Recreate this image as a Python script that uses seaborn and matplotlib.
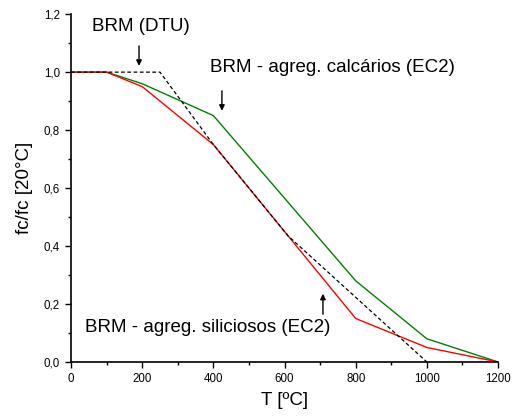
import matplotlib
matplotlib.use("Agg")
import matplotlib.pyplot as plt
import seaborn as sns
import pandas as pd
from matplotlib.ticker import MultipleLocator, FuncFormatter

# Data
t_silic = [0, 100, 200, 400, 800, 1000, 1200]
fc_silic = [1.0, 1.0, 0.95, 0.75, 0.15, 0.05, 0.0]
t_calc = [0, 100, 200, 400, 800, 1000, 1200]
fc_calc = [1.0, 1.0, 0.96, 0.85, 0.28, 0.08, 0.0]
t_dtu = [0, 250, 400, 610, 1000]
fc_dtu = [1.0, 1.0, 0.75, 0.435, 0.0]

sns.set_style("ticks", {"axes.edgecolor": "black", "text.color": "black",
                        "xtick.color": "black", "ytick.color": "black",
                        "axes.labelcolor": "black"})
plt.rcParams['font.family'] = ['Liberation Sans', 'DejaVu Sans']

fig = plt.figure(figsize=(5.15, 4.17), dpi=100)
ax = fig.add_axes([0.138, 0.132, 0.829, 0.834])

df_s = pd.DataFrame({"T": t_silic, "fc": fc_silic})
df_c = pd.DataFrame({"T": t_calc, "fc": fc_calc})
df_d = pd.DataFrame({"T": t_dtu, "fc": fc_dtu})

sns.lineplot(data=df_c, x="T", y="fc", ax=ax, color="#008000", lw=1.0)
sns.lineplot(data=df_s, x="T", y="fc", ax=ax, color="#ff0000", lw=1.0)
sns.lineplot(data=df_d, x="T", y="fc", ax=ax, color="black", lw=0.9, linestyle=(0, (3, 2)))

ax.set_xlim(0, 1200)
ax.set_ylim(0, 1.2)
ax.xaxis.set_major_locator(MultipleLocator(200))
ax.xaxis.set_minor_locator(MultipleLocator(100))
ax.yaxis.set_major_locator(MultipleLocator(0.2))
ax.yaxis.set_minor_locator(MultipleLocator(0.1))
ax.yaxis.set_major_formatter(FuncFormatter(lambda v, p: f"{v:.1f}".replace(".", ",")))
ax.tick_params(which="major", length=4, width=1, labelsize=8.3, direction="out", pad=4,
               colors="black")
ax.tick_params(which="minor", length=2.5, width=1, direction="out", colors="black")
for s in ["left", "bottom"]:
    ax.spines[s].set_linewidth(1.2)
    ax.spines[s].set_color("black")
sns.despine(ax=ax)

ax.set_xlabel("T [ºC]", fontsize=13.5, labelpad=5, color="black")
ax.set_ylabel("fc/fc [20°C]", fontsize=13.5, labelpad=8, color="black")

arrow = dict(arrowstyle="-|>", color="black", lw=1, mutation_scale=8)
ax.text(58, 1.158, "BRM (DTU)", fontsize=13.5, va="center", ha="left", color="black")
ax.annotate("", xy=(191, 1.012), xytext=(191, 1.10), arrowprops=arrow)

ax.text(391, 1.017, "BRM - agreg. calcários (EC2)", fontsize=13.5, va="center", ha="left", color="black")
ax.annotate("", xy=(424, 0.857), xytext=(424, 0.945), arrowprops=arrow)

ax.text(39, 0.12, "BRM - agreg. siliciosos (EC2)", fontsize=13.5, va="center", ha="left", color="black")
ax.annotate("", xy=(708, 0.245), xytext=(708, 0.155), arrowprops=arrow)

fig.savefig("out.png", dpi=100)
